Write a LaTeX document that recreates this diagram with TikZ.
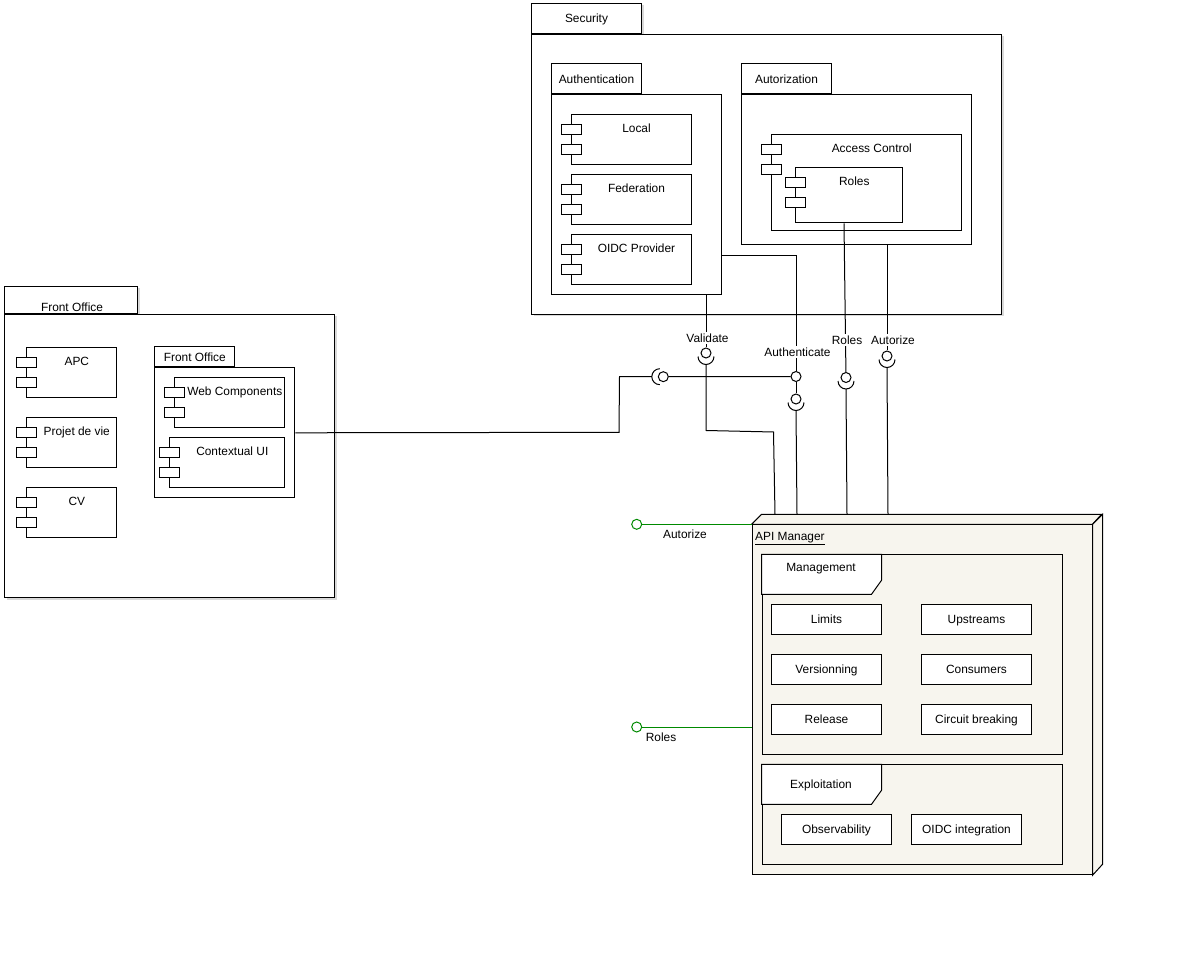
\documentclass[tikz,border=0pt]{standalone}
\usepackage{fontspec}
\setmainfont{Liberation Sans}
\usepackage{xcolor}
\usepackage{tikz}
\usetikzlibrary{positioning}
\usetikzlibrary{shadows}
\pgfdeclarelayer{nodelayer}
\pgfdeclarelayer{edgelayer}
\pgfsetlayers{nodelayer,edgelayer,main}
\definecolor{apifill}{HTML}{F7F5EE}
\definecolor{ifgreen}{HTML}{008A00}
\tikzset{
    none/.style = {inner sep=0pt, txt},
    txt/.style = {font=\fontsize{11.9}{14}\selectfont, text height=8.5pt, text depth=0pt},
    box/.style = {draw, fill=white, rectangle, inner sep=0pt, line width=1pt, txt},
    shade/.style = {drop shadow={shadow xshift=2pt, shadow yshift=-2pt, fill=black, opacity=0.15}},
    pkgbody/.style = {box, anchor=north west},
    pkgtab/.style = {box, anchor=south west, minimum height=30},
    complbl/.style = {anchor=north, inner sep=0pt, xshift=5pt, yshift=-10pt, txt},
    comp/.style = {box, anchor=north west, minimum height=50, label={[complbl]north:#1}},
    port/.style = {box, anchor=north west, minimum width=20, minimum height=10},
    apibox/.style = {box, minimum width=110, minimum height=30},
    ball/.style = {circle, draw, fill=white, inner sep=0pt, minimum size=10, line width=1pt},
    wire/.style = {line width=1pt},
    iflabel/.style = {fill=white, inner sep=2pt, txt}
}

\begin{document}
\begin{tikzpicture}[x=1pt, y=-1pt]
    \useasboundingbox (0,0) rectangle (1192,965);
    \begin{pgfonlayer}{nodelayer}
        % Security package
        \node [pkgbody, shade, minimum width=470, minimum height=280] (security) at (531,34) {};
        \node [pkgtab, shade, minimum width=110] (securitytab) at (security.north west) {Security};
        \node [pkgbody, minimum width=170, minimum height=200] (authentication) at (551,94.3) {};
        \node [pkgtab, minimum width=90] (authenticationtab) at (authentication.north west) {Authentication};
        \node [comp=Local, minimum width=120] (local) at (571,114.3) {};
        \node [port] (localpa) at (561.3,124.3) {};
        \node [port] (localpb) at (561.3,144.3) {};
        \node [comp=Federation, minimum width=120] (federation) at (571,174.3) {};
        \node [port] (federationpa) at (561.3,184.3) {};
        \node [port] (federationpb) at (561.3,204.3) {};
        \node [comp=OIDC Provider, minimum width=120] (oidcprovider) at (571,234.3) {};
        \node [port] (oidcproviderpa) at (561.3,244.3) {};
        \node [port] (oidcproviderpb) at (561.3,264.3) {};
        \node [pkgbody, minimum width=230, minimum height=150] (autorization) at (741,94.3) {};
        \node [pkgtab, minimum width=90] (autorizationtab) at (autorization.north west) {Autorization};
        \node [comp=Access Control, minimum width=190, minimum height=96] (accesscontrol) at (771.3,134.3) {};
        \node [port] (accesscontrolpa) at (761.3,144.3) {};
        \node [port] (accesscontrolpb) at (761.3,164.3) {};
        \node [comp=Roles, minimum width=107, minimum height=55] (roles) at (795.3,167.3) {};
        \node [port] (rolespa) at (785.3,177.3) {};
        \node [port] (rolespb) at (785.3,197.3) {};

        % Front Office package
        \node [pkgbody, shade, minimum width=330, minimum height=283] (frontoffice) at (4,314) {};
        \node [pkgtab, shade, minimum width=133, minimum height=27] (frontofficetab) at (frontoffice.north west) {};
        \node [comp=APC, minimum width=90] (apc) at (26.3,346.7) {};
        \node [port] (apcpa) at (16,357) {};
        \node [port] (apcpb) at (16,377) {};
        \node [comp=Projet de vie, minimum width=90] (projetdevie) at (26.3,416.7) {};
        \node [port] (projetdeviepa) at (16,427) {};
        \node [port] (projetdeviepb) at (16,447) {};
        \node [comp=CV, minimum width=90] (cv) at (26.3,486.7) {};
        \node [port] (cvpa) at (16,497) {};
        \node [port] (cvpb) at (16,517) {};
        \node [pkgbody, minimum width=140, minimum height=130] (foinner) at (154.3,367.3) {};
        \node [pkgtab, minimum width=80, minimum height=20] (foinnertab) at (foinner.north west) {Front Office};
        \node [comp=Web Components, minimum width=110] (webcomponents) at (174.3,377.3) {};
        \node [port] (webcomponentspa) at (164.3,387.3) {};
        \node [port] (webcomponentspb) at (164.3,407.3) {};
        \node [comp=Contextual UI, minimum width=115] (contextualui) at (169.3,437.3) {};
        \node [port] (contextualuipa) at (159.3,447.3) {};
        \node [port] (contextualuipb) at (159.3,467.3) {};

        % API Manager node
        \node [box, fill=apifill, anchor=north west, minimum width=340, minimum height=350] (apimgr) at (751.5,524.3) {};
        \draw [wire, fill=apifill] (apimgr.north west) -- ++(10,-10) -- ++(340,0) -- (apimgr.north east) -- cycle;
        \draw [wire, fill=apifill] (apimgr.north east) -- ++(10,-10) -- ++(0,350) -- (apimgr.south east) -- cycle;
        \node [box, fill=none, anchor=north west, minimum width=300, minimum height=200] (management) at (761.5,554.3) {};
        \draw [wire, fill=white] (management.north west) -- ++(120,0) -- ++(0,26) -- ++(-10,14) -- ++(-110,0) -- cycle;
        \node [box, fill=none, anchor=north west, minimum width=300, minimum height=100] (exploitation) at (761.5,764.3) {};
        \draw [wire, fill=white] (exploitation.north west) -- ++(120,0) -- ++(0,26) -- ++(-10,14) -- ++(-110,0) -- cycle;
        \node [apibox] (limits) at (826.5,619.3) {Limits};
        \node [apibox] (upstreams) at (976.5,619.3) {Upstreams};
        \node [apibox] (versionning) at (826.5,669.3) {Versionning};
        \node [apibox] (consumers) at (976.5,669.3) {Consumers};
        \node [apibox] (release) at (826.5,719.3) {Release};
        \node [apibox] (circuitbreaking) at (976.5,719.3) {Circuit breaking};
        \node [apibox] (observability) at (836.5,829.3) {Observability};
        \node [apibox] (oidcintegration) at (966.5,829.3) {OIDC integration};

        % interfaces
        \node [ball] (feball) at (663.3,376.7) {};
        \node [ball] (valball) at (706,353) {};
        \node [ball] (authball) at (796,376.5) {};
        \node [ball] (authball2) at (796,399) {};
        \node [ball] (rolesball) at (846,377.5) {};
        \node [ball] (autzball) at (887,356) {};
        \node [ball, draw=ifgreen] (gautzball) at (636.7,524.3) {};
        \node [ball, draw=ifgreen] (grolesball) at (636.7,727) {};
        \coordinate (apival) at (775,514.3);
        \coordinate (apiauth) at (797,514.3);
        \coordinate (apiroles) at (847,514.3);
        \coordinate (apiautz) at (888,514.3);
    \end{pgfonlayer}
    \begin{pgfonlayer}{edgelayer}
        \draw [wire] (foinner.east) -- (619,432.3) -- (619.5,376.7) -- ([xshift=-11.5pt]feball.center);
        \draw [wire] (feball.center) ++(-3.5,-8) arc[start angle=270, end angle=90, radius=8];
        \draw [wire] (feball) to (authball);
        \draw [wire] (authentication.east |- 0,255.3) -| (authball);
        \draw [wire] (authball) to (authball2);
        \draw [wire] (authball2.center) ++(-8,3.5) arc[start angle=180, end angle=0, radius=8];
        \draw [wire] ([yshift=-11.5pt]authball2.center) to (apiauth);
        \draw [wire] (authentication.south -| valball) to (valball);
        \draw [wire] (valball.center) ++(-8,3.5) arc[start angle=180, end angle=0, radius=8];
        \draw [wire] ([yshift=-11.5pt]valball.center) -- (706,430.5) -- (773.5,432) -- (apival);
        \draw [wire] (roles.south -| 844,0) to (rolesball);
        \draw [wire] (rolesball.center) ++(-8,3.5) arc[start angle=180, end angle=0, radius=8];
        \draw [wire] ([yshift=-11.5pt]rolesball.center) to (apiroles);
        \draw [wire] (autorization.south -| autzball) to (autzball);
        \draw [wire] (autzball.center) ++(-8,3.5) arc[start angle=180, end angle=0, radius=8];
        \draw [wire] ([yshift=-11.5pt]autzball.center) to (apiautz);
        \draw [wire, ifgreen] (gautzball) to (gautzball -| apimgr.west);
        \draw [wire, ifgreen] (grolesball) to (grolesball -| apimgr.west);
    \end{pgfonlayer}
    \node [none] (frontofficelbl) at (72,307) {Front Office};
    \node [none, anchor=base west, text depth=2pt] (apimgrlbl) at (755,540.5) {\underline{API Manager}};
    \node [none] (managementlbl) at (821,567) {Management};
    \node [none] (exploitationlbl) at (821,784) {Exploitation};
    \node [iflabel] (validatelbl) at (707.5,338) {Validate};
    \node [iflabel] (authenticatelbl) at (797.5,352) {Authenticate};
    \node [iflabel] (roleslbl) at (847,340) {Roles};
    \node [iflabel] (autorizelbl) at (893,340) {Autorize};
    \node [none] (gautzlbl) at (685,534) {Autorize};
    \node [none] (groleslbl) at (661,737) {Roles};
\end{tikzpicture}
\end{document}
